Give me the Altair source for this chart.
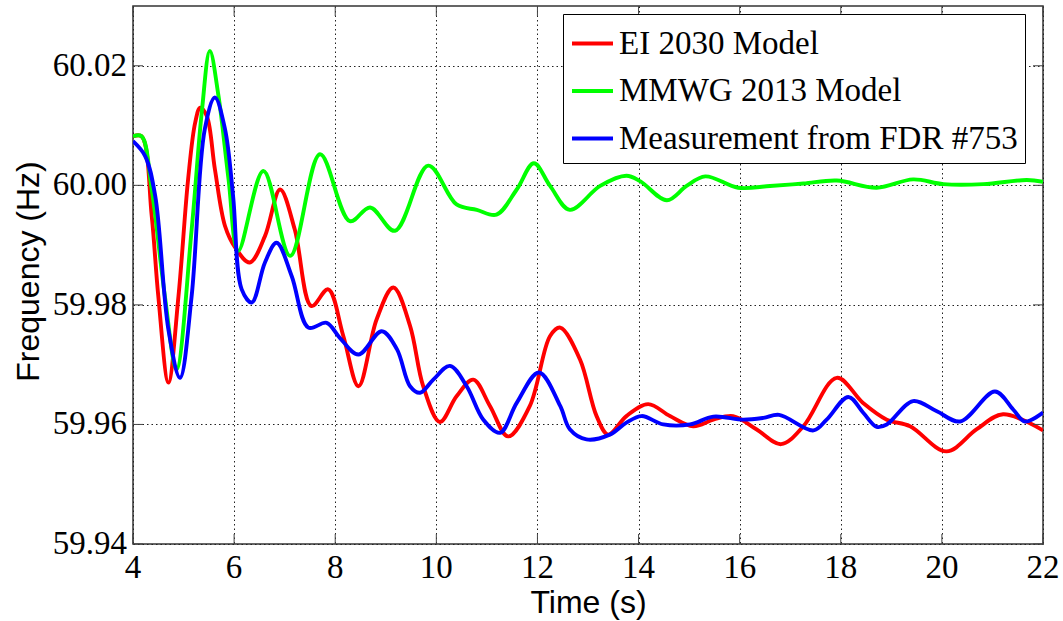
import altair as alt
import pandas as pd

# Frequency response after the event: two simulation models and one FDR measurement
ei_time = [4.00, 4.17, 4.37, 4.50, 4.70, 4.90, 5.09, 5.23, 5.33, 5.46, 5.62, 5.82, 6.02, 6.31,
           6.61, 6.91, 7.20, 7.53, 7.86, 8.16, 8.46, 8.82, 9.15, 9.48, 9.74, 10.07, 10.40,
           10.73, 11.06, 11.42, 11.85, 12.25, 12.45, 12.84, 13.17, 13.40, 13.76, 14.19, 14.62,
           15.08, 15.48, 15.87, 16.33, 16.82, 17.26, 17.92, 18.44, 18.91, 19.37, 20.09, 20.69,
           21.21, 22.00]
ei_freq = [60.0082, 60.0082, 59.9949, 59.9815, 59.9670, 59.9815, 60.0010, 60.0105, 60.0130,
           60.0116, 60.0027, 59.9932, 59.9896, 59.9871, 59.9915, 59.9993, 59.9926, 59.9798,
           59.9826, 59.9748, 59.9664, 59.9776, 59.9829, 59.9765, 59.9664, 59.9604, 59.9647,
           59.9675, 59.9631, 59.9580, 59.9631, 59.9748, 59.9762, 59.9709, 59.9614, 59.9583,
           59.9614, 59.9634, 59.9614, 59.9597, 59.9608, 59.9614, 59.9592, 59.9567, 59.9597,
           59.9678, 59.9636, 59.9608, 59.9597, 59.9555, 59.9592, 59.9617, 59.9590]

mmwg_time = [4.00, 4.17, 4.37, 4.63, 4.86, 5.16, 5.36, 5.52, 5.69, 5.89, 6.08, 6.58, 7.11,
             7.70, 8.29, 8.69, 9.18, 9.84, 10.40, 10.80, 11.19, 11.59, 11.93, 12.25, 12.64,
             13.24, 13.76, 14.03, 14.56, 14.95, 15.32, 15.97, 16.60, 17.26, 17.92, 18.71,
             19.43, 20.03, 20.82, 21.68, 22.00]
mmwg_freq = [60.0082, 60.0082, 59.9993, 59.9815, 59.9692, 59.9926, 60.0122, 60.0225, 60.0150,
             60.0010, 59.9890, 60.0024, 59.9882, 60.0052, 59.9940, 59.9963, 59.9924, 60.0033,
             59.9968, 59.9959, 59.9951, 59.9993, 60.0037, 59.9999, 59.9959, 59.9999, 60.0016,
             60.0007, 59.9975, 59.9999, 60.0015, 59.9996, 59.9999, 60.0003, 60.0008, 59.9996,
             60.0010, 60.0002, 60.0002, 60.0009, 60.0006]

fdr_time = [4.00, 4.24, 4.44, 4.70, 4.93, 5.16, 5.42, 5.62, 5.82, 5.98, 6.15, 6.35, 6.61,
            6.84, 7.14, 7.47, 7.83, 8.09, 8.46, 8.92, 9.22, 9.48, 9.68, 9.94, 10.27, 10.60,
            10.93, 11.26, 11.59, 12.03, 12.45, 12.64, 12.97, 13.43, 13.76, 14.06, 14.49,
            15.02, 15.48, 16.07, 16.47, 16.78, 17.46, 17.72, 18.15, 18.44, 18.71, 18.91,
            19.43, 19.90, 20.36, 21.05, 21.41, 21.64, 22.00]
fdr_freq = [60.0074, 60.0049, 59.9982, 59.9759, 59.9678, 59.9815, 60.0094, 60.0147, 60.0094,
            59.9982, 59.9826, 59.9804, 59.9871, 59.9904, 59.9848, 59.9762, 59.9770, 59.9745,
            59.9717, 59.9756, 59.9726, 59.9664, 59.9653, 59.9675, 59.9698, 59.9664, 59.9608,
            59.9586, 59.9636, 59.9687, 59.9631, 59.9592, 59.9575, 59.9583, 59.9603, 59.9614,
            59.9600, 59.9600, 59.9613, 59.9608, 59.9611, 59.9616, 59.9590, 59.9608, 59.9646,
            59.9620, 59.9596, 59.9600, 59.9639, 59.9622, 59.9605, 59.9655, 59.9625, 59.9605,
            59.9620]

series_names = ["EI 2030 Model", "MMWG 2013 Model", "Measurement from FDR #753"]
series_colors = ["#FF0000", "#00FF00", "#0000FF"]

x_ticks = [4, 6, 8, 10, 12, 14, 16, 18, 20, 22]
y_ticks = [59.94, 59.96, 59.98, 60.00, 60.02]

rows = []
for name, ts, fs in zip(series_names,
                        [ei_time, mmwg_time, fdr_time],
                        [ei_freq, mmwg_freq, fdr_freq]):
    rows += [{"time": t, "freq": f, "series": name} for t, f in zip(ts, fs)]
df = pd.DataFrame(rows)

xt = pd.DataFrame({"time": x_ticks, "label": [str(v) for v in x_ticks]})
yt = pd.DataFrame({"freq": y_ticks, "label": [f"{v:.2f}" for v in y_ticks]})

W, H = 910, 538
TICK = 10
SERIF = "Times New Roman, Liberation Serif, serif"
SANS = "Liberation Sans"

x_scale = alt.Scale(domain=[4, 22], nice=False, zero=False)
y_scale = alt.Scale(domain=[59.94, 60.03], nice=False, zero=False)

# Axes carry the grid and titles; tick labels are drawn as serif text marks below
x_axis = alt.Axis(values=x_ticks, title="Time (s)", labels=False,
                  titleFont=SANS, titleFontSize=32, titleFontWeight="normal",
                  titleColor="#000000", titleX=455, titleY=68, titleBaseline="alphabetic",
                  titleAlign="center")
y_axis = alt.Axis(values=y_ticks, title="Frequency (Hz)", labels=False,
                  titleFont=SANS, titleFontSize=32, titleFontWeight="normal",
                  titleColor="#000000", titleX=-105, titleY=265, titleAngle=270,
                  titleBaseline="middle", titleAlign="center")

lines = alt.Chart(df).mark_line(strokeWidth=3.9, interpolate="catmull-rom", clip=True).encode(
    x=alt.X("time:Q", scale=x_scale, axis=x_axis),
    y=alt.Y("freq:Q", scale=y_scale, axis=y_axis),
    color=alt.Color("series:N", sort=series_names,
                    scale=alt.Scale(domain=series_names, range=series_colors),
                    legend=alt.Legend(title=None, orient="none", legendX=430, legendY=8,
                                      padding=7, rowPadding=7.5, strokeColor="#000000",
                                      fillColor="#FFFFFF", symbolType="stroke",
                                      symbolSize=1681, symbolStrokeWidth=4,
                                      labelFont=SERIF, labelFontSize=33,
                                      labelColor="#000000", labelOffset=4, labelLimit=600)),
)

tick_color = "#444444"

# Inward tick marks on all four sides of the frame
bottom_ticks = alt.Chart(xt).mark_rule(color=tick_color, strokeWidth=1).encode(
    x=alt.X("time:Q", scale=x_scale, axis=x_axis),
    y=alt.value(H), y2=alt.value(H - TICK))
top_ticks = alt.Chart(xt).mark_rule(color=tick_color, strokeWidth=1).encode(
    x=alt.X("time:Q", scale=x_scale, axis=x_axis),
    y=alt.value(0), y2=alt.value(TICK))
left_ticks = alt.Chart(yt).mark_rule(color=tick_color, strokeWidth=1).encode(
    y=alt.Y("freq:Q", scale=y_scale, axis=y_axis),
    x=alt.value(0), x2=alt.value(TICK))
right_ticks = alt.Chart(yt).mark_rule(color=tick_color, strokeWidth=1).encode(
    y=alt.Y("freq:Q", scale=y_scale, axis=y_axis),
    x=alt.value(W), x2=alt.value(W - TICK))

# Tick labels
x_labels = alt.Chart(xt).mark_text(font=SERIF, fontSize=33, color="#000000",
                                   align="center", baseline="alphabetic").encode(
    x=alt.X("time:Q", scale=x_scale, axis=x_axis),
    y=alt.value(H + 34),
    text="label:N")
y_labels = alt.Chart(yt).mark_text(font=SERIF, fontSize=33, color="#000000",
                                   align="right", baseline="middle").encode(
    y=alt.Y("freq:Q", scale=y_scale, axis=y_axis),
    x=alt.value(-6),
    text="label:N")

chart = alt.layer(lines, bottom_ticks, top_ticks, left_ticks, right_ticks,
                  x_labels, y_labels).properties(
    width=W, height=H,
    autosize=alt.AutoSizeParams(type="none"),
    padding={"left": 133, "top": 6, "right": 20, "bottom": 77},
    background="#FFFFFF",
).configure_view(
    stroke="#333333", strokeWidth=1.5
).configure_axis(
    domain=False, ticks=False, tickSize=0,
    grid=True, gridColor="#222222", gridDash=[1.5, 3], gridWidth=1, gridOpacity=1,
).configure_legend(
    cornerRadius=0
)

chart.save("out.html", embed_options={"renderer": "svg", "actions": False})
